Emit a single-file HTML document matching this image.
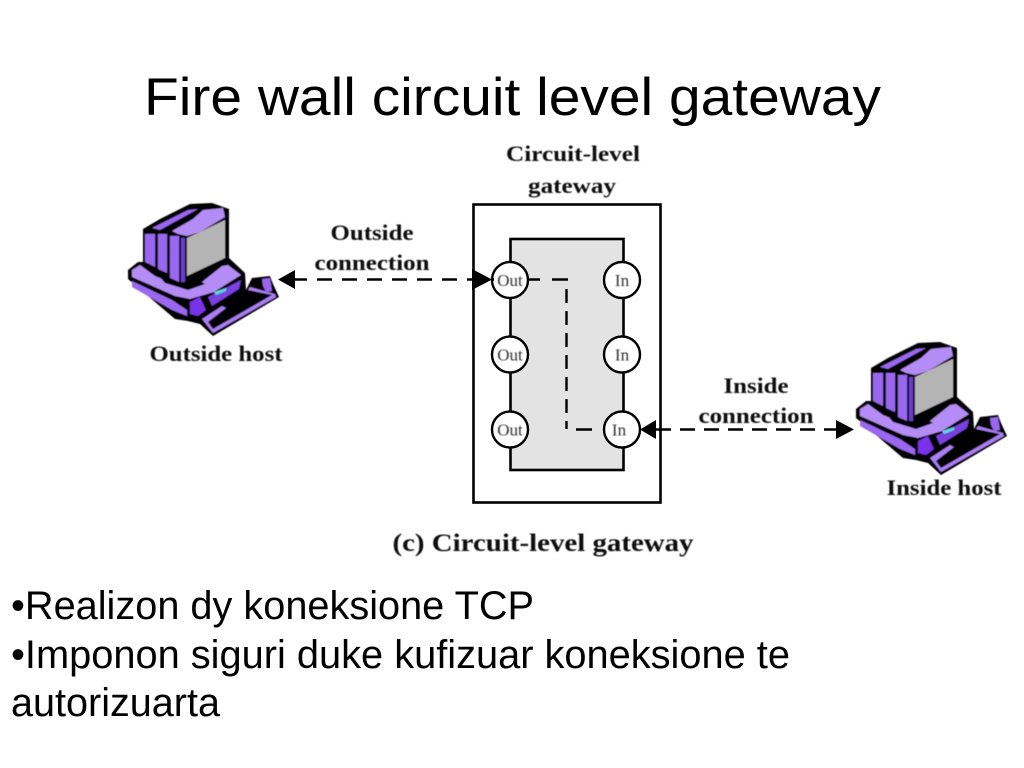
<!DOCTYPE html>
<html><head><meta charset="utf-8">
<style>
html,body{margin:0;padding:0;background:#fff;width:1024px;height:768px;overflow:hidden}
svg{position:absolute;left:0;top:0}
.d{font-family:"Liberation Serif",serif;font-weight:bold;fill:#111;filter:url(#b)}
.n{font-family:"Liberation Serif",serif;fill:#333;font-size:17px;filter:url(#b)}
.s{font-family:"Liberation Sans",Arial,sans-serif;font-size:39.7px;fill:#000}
</style></head><body>
<svg width="1024" height="768" viewBox="0 0 1024 768" xmlns="http://www.w3.org/2000/svg">
<defs>
<filter id="b" x="-10%" y="-20%" width="120%" height="140%"><feGaussianBlur stdDeviation="0.5"/></filter>
<g id="pc">
 <!-- black silhouette -->
 <path d="M143,229 L160,219 L188,205 L190,204 L212,203 L229,209 L229,258 L245,273 L246,290 L252,278 L270,276 L273,284 L279,297 L213,336 L200,324 L188,321 L175,319 L128,279 L128,270 L138,262 L143,262 Z" fill="#000"/>
 <!-- monitor side panels -->
 <path d="M145,234 L155,234 L155,267 L145,262 Z" fill="#9a68f0"/>
 <path d="M158,234 L167,234 L167,273 L158,269 Z" fill="#9a68f0"/>
 <path d="M170,236 L179,236 L179,282 L170,278 Z" fill="#9a68f0"/>
 <path d="M181,238 L185,238 L185,282 L181,282 Z" fill="#6a3cc8"/>
 <!-- monitor top -->
 <path d="M172,231 L193,219 L203,210 L223,208 L225,217 L200,232 L187,236 L178,234 Z" fill="#b48cf5"/>
 <path d="M152,228 L188,210 L198,209 L160,230 Z" fill="#9a68f0"/>
 <!-- screen -->
 <path d="M187,238 L225,220 L225,258 L187,276 Z" fill="#b4b4b4"/>
 <!-- base top -->
 <path d="M132,270 L140,265 L155,276 L185,288 L197,286 L222,266 L228,265 L241,275 L214,292 L190,299 L175,296 L132,277 Z" fill="#b48cf5"/>
 <path d="M160,277 L185,285 L200,281 L205,284 L188,290 L165,283 Z" fill="#000"/>
 <!-- base front -->
 <path d="M132,281 L172,300 L187,310 L187,316 L172,310 L132,287 Z" fill="#9a68f0"/>
 <path d="M190,302 L200,297 L206,310 L198,316 L190,314 Z" fill="#7a30e8"/>
 <path d="M208,297 L241,280 L239,289 L212,306 Z" fill="#7a40e0"/>
 <path d="M214,292 L226,288 L226,291 L216,295 Z" fill="#58d8d8"/>
 <!-- keyboard frame -->
 <path d="M202,319 L222,306 L226,308 L208,322 L213,329 L272,295 L248,290 L250,287 L275,294 L276,297 L213,333 Z" fill="#a97ef3"/>
 <!-- mouse -->
 <path d="M262,279 L270,278 L272,291 L266,292 L263,286 Z" fill="#9a68f0"/>
</g>
</defs>

<text x="144" y="115" font-family="'Liberation Sans',Arial,sans-serif" font-size="53" textLength="737" lengthAdjust="spacingAndGlyphs" fill="#000">Fire wall circuit level gateway</text>

<!-- Gateway -->
<rect x="473.500" y="204.500" width="187" height="298" fill="#fff" stroke="#000" stroke-width="2.6"/>
<rect x="510.500" y="239" width="113" height="231" fill="#e3e3e3" stroke="#000" stroke-width="2.6"/>

<g fill="#fff" stroke="#000" stroke-width="2.4">
<circle cx="510" cy="280" r="18"/><circle cx="510" cy="354.500" r="18"/><circle cx="510" cy="429.500" r="18"/>
<circle cx="622" cy="280" r="18"/><circle cx="622" cy="354.500" r="18"/><circle cx="622" cy="429.500" r="18"/>
</g>
<g class="n" text-anchor="middle">
<text x="510" y="286">Out</text><text x="510" y="360.500">Out</text><text x="510" y="435.500">Out</text>
<text x="622" y="286">In</text><text x="622" y="360.500">In</text><text x="619" y="435.500">In</text>
</g>

<!-- internal dashes -->
<g stroke="#000" stroke-width="2.400" fill="none">
<path d="M528,279.500H540M552,279.500H568M576,429.500H592"/>
<path d="M566.500,289V429" stroke-dasharray="14 8"/>
</g>

<!-- outside connection -->
<path d="M292,279.500H494" stroke="#000" stroke-width="2.400" stroke-dasharray="15 10" fill="none"/>
<path d="M278,279.500L295,270V289Z" fill="#000"/>
<path d="M472,269L492,279.500L472,290Z" fill="#000"/>

<!-- inside connection -->
<path d="M640,429.500L656,420V439Z" fill="#000"/>
<path d="M656,429.500H840" stroke="#000" stroke-width="2.400" stroke-dasharray="15 9" fill="none"/>
<path d="M836,420L854,429.500L836,439Z" fill="#000"/>

<!-- Labels -->
<g class="d" text-anchor="middle" font-size="22">
<text x="573" y="161" textLength="134" lengthAdjust="spacingAndGlyphs">Circuit-level</text>
<text x="572" y="193" textLength="88" lengthAdjust="spacingAndGlyphs">gateway</text>
<text x="372" y="240" textLength="83" lengthAdjust="spacingAndGlyphs">Outside</text>
<text x="372" y="270" textLength="115" lengthAdjust="spacingAndGlyphs">connection</text>
<text x="756" y="393" textLength="65" lengthAdjust="spacingAndGlyphs">Inside</text>
<text x="756" y="423" textLength="115" lengthAdjust="spacingAndGlyphs">connection</text>
<text x="216" y="361" textLength="133" lengthAdjust="spacingAndGlyphs">Outside host</text>
<text x="944" y="495" textLength="115" lengthAdjust="spacingAndGlyphs">Inside host</text>
<text x="543" y="551" font-size="25" textLength="301" lengthAdjust="spacingAndGlyphs">(c) Circuit-level gateway</text>
</g>

<!-- Computers -->
<g filter="url(#b)">
<use href="#pc"/>
<use href="#pc" transform="translate(728,139)"/>
</g>

<!-- Bullets -->
<text class="s" x="11" y="619" textLength="523" lengthAdjust="spacingAndGlyphs">•Realizon dy koneksione TCP</text>
<text class="s" x="11" y="668" textLength="779" lengthAdjust="spacingAndGlyphs">•Imponon siguri duke kufizuar koneksione te</text>
<text class="s" x="11" y="716" textLength="209" lengthAdjust="spacingAndGlyphs">autorizuarta</text>
</svg>
</body></html>
